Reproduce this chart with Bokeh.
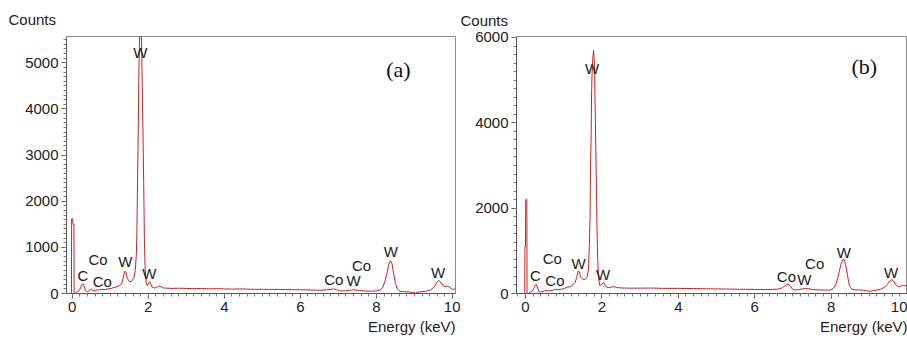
from bokeh.plotting import figure
from bokeh.models import SingleIntervalTicker, Title, Range1d
from bokeh.layouts import row
from bokeh.core.properties import value
from bokeh.embed import file_html
from bokeh.resources import INLINE

# ---------------- data ----------------
a_energy = [-0.05, -0.02, -0.015, 0.015, 0.02, 0.045, 0.05, 0.08, 0.12, 0.18, 0.22, 0.26, 0.28,
            0.31, 0.35, 0.40, 0.46, 0.50, 0.55, 0.62, 0.70, 0.78, 0.86, 0.94, 1.02, 1.10, 1.18,
            1.24, 1.30, 1.34, 1.38, 1.41, 1.45, 1.50, 1.56, 1.62, 1.66, 1.69, 1.70, 1.72, 1.74,
            1.75, 1.76, 1.78, 1.80, 1.82, 1.84, 1.86, 1.88, 1.90, 1.92, 1.95, 1.98, 2.01, 2.04,
            2.07, 2.10, 2.16, 2.22, 2.28, 2.33, 2.40, 2.50, 2.65, 2.80, 3.00, 3.20, 3.40, 3.60,
            3.80, 4.00, 4.20, 4.40, 4.60, 4.80, 5.00, 5.20, 5.40, 5.60, 5.80, 6.00, 6.20, 6.40,
            6.55, 6.70, 6.80, 6.87, 6.95, 7.05, 7.20, 7.35, 7.42, 7.55, 7.70, 7.85, 7.98, 8.08,
            8.16, 8.22, 8.28, 8.33, 8.37, 8.41, 8.45, 8.50, 8.55, 8.62, 8.72, 8.85, 8.95, 9.02,
            9.10, 9.20, 9.30, 9.40, 9.48, 9.55, 9.60, 9.65, 9.70, 9.76, 9.80, 9.86, 9.90, 9.95,
            10.00, 10.08]
a_counts = [0, 0, 1620, 1620, 1500, 1500, 0, 0, 40, 60, 120, 200, 210,
            170, 60, 40, 70, 95, 60, 70, 80, 90, 85, 100, 110, 130, 150,
            170, 220, 330, 480, 470, 330, 260, 260, 330, 500, 900, 1300, 2500, 3700,
            4600, 5100, 5900, 6000, 5700, 4600, 3600, 2400, 1100, 500, 200, 170, 230, 260,
            200, 140, 120, 130, 160, 150, 120, 115, 110, 115, 110, 105, 110, 100,
            105, 100, 95, 100, 95, 90, 92, 88, 90, 85, 82, 80, 78, 72,
            70, 80, 90, 100, 80, 55, 60, 75, 80, 65, 55, 50, 55, 70,
            120, 250, 450, 640, 710, 650, 450, 220, 100, 50, 40, 35, 20, 10,
            30, 40, 50, 70, 110, 180, 260, 280, 230, 160, 150, 160, 150, 120,
            90, 100]

b_energy = [-0.04, -0.02, -0.015, 0.0, 0.005, 0.035, 0.04, 0.08, 0.12, 0.18, 0.22, 0.26, 0.28,
            0.31, 0.35, 0.40, 0.46, 0.52, 0.60, 0.70, 0.78, 0.86, 0.94, 1.02, 1.10, 1.18,
            1.24, 1.30, 1.34, 1.38, 1.41, 1.45, 1.50, 1.56, 1.62, 1.65, 1.67, 1.69, 1.70, 1.72,
            1.73, 1.74, 1.76, 1.78, 1.80, 1.81, 1.83, 1.85, 1.87, 1.89, 1.91, 1.94, 1.98, 2.02,
            2.05, 2.08, 2.12, 2.18, 2.25, 2.32, 2.40, 2.50, 2.70, 3.00, 3.30, 3.60, 4.00, 4.40,
            4.80, 5.20, 5.60, 6.00, 6.40, 6.60, 6.72, 6.80, 6.86, 6.92, 6.98, 7.06, 7.15, 7.25,
            7.32, 7.42, 7.55, 7.70, 7.85, 7.97, 8.05, 8.12, 8.18, 8.24, 8.30, 8.34, 8.38, 8.43,
            8.48, 8.55, 8.65, 8.75, 8.85, 8.95, 9.02, 9.10, 9.20, 9.30, 9.40, 9.48, 9.54, 9.59,
            9.64, 9.70, 9.77, 9.82, 9.90, 9.95, 10.00]
b_counts = [0, 0, 1100, 1100, 2200, 2200, 0, 0, 30, 60, 130, 200, 220,
            150, 50, 30, 50, 70, 60, 70, 100, 90, 100, 120, 150, 160,
            200, 260, 380, 530, 510, 380, 330, 330, 400, 600, 1100, 1800, 2800, 3800,
            4700, 5100, 5500, 5700, 5500, 5100, 4000, 2900, 1600, 800, 400, 190, 200, 240,
            255, 200, 150, 140, 150, 160, 140, 130, 125, 125, 128, 120, 120, 115,
            110, 105, 100, 95, 95, 100, 130, 190, 225, 190, 110, 80, 90, 110,
            115, 110, 90, 85, 80, 80, 110, 200, 380, 620, 790, 800, 680, 420,
            180, 100, 85, 80, 77, 60, 50, 70, 80, 100, 150, 230, 300, 325,
            290, 200, 155, 170, 195, 180, 170]

a_peak_names = ["W", "C", "Co", "Co", "W", "W", "Co", "W", "Co", "W", "W"]
a_peak_x = [1.79, 0.28, 0.68, 0.79, 1.40, 2.03, 6.88, 7.40, 7.61, 8.38, 9.62]
a_peak_y = [5226, 387, 746, 258, 695, 437, 294, 280, 617, 903, 458]

b_peak_names = ["W", "C", "Co", "Co", "W", "W", "Co", "W", "Co", "W", "W"]
b_peak_x = [1.74, 0.26, 0.70, 0.77, 1.39, 2.03, 6.83, 7.30, 7.57, 8.33, 9.57]
b_peak_y = [5270, 411, 814, 302, 713, 450, 395, 326, 698, 969, 488]

panel_tags = ["(a)", "(b)"]

FONT = "Liberation Sans"
LINE = "#cc2222"
TXT = "#222222"
FS = "15px"


def make_panel(width, bl, br, bt, bb, xr, yr, yint, energy, counts,
               names, px, py, tag, tag_xy, title_offset, title_standoff):
    p = figure(width=width, height=340, output_backend="svg", toolbar_location=None,
               x_range=Range1d(*xr), y_range=Range1d(*yr),
               min_border_left=bl, min_border_right=br, min_border_top=bt,
               min_border_bottom=bb, title="Counts")
    p.title.align = "left"
    p.title.offset = title_offset
    p.title.standoff = title_standoff
    p.title.text_font = FONT
    p.title.text_font_size = FS
    p.title.text_font_style = "normal"
    p.title.text_color = TXT

    p.xgrid.visible = False
    p.ygrid.visible = False
    p.outline_line_color = "#8c8c8c"
    p.outline_line_width = 1

    p.xaxis.ticker = SingleIntervalTicker(interval=2, num_minor_ticks=10)
    p.yaxis.ticker = SingleIntervalTicker(interval=yint, num_minor_ticks=10)
    for ax in (p.xaxis, p.yaxis):
        ax.axis_line_color = "#555555"
        ax.major_tick_line_color = "#555555"
        ax.minor_tick_line_color = "#777777"
        ax.major_tick_out = 5
        ax.major_tick_in = 0
        ax.minor_tick_out = 3
        ax.minor_tick_in = 0
        ax.major_label_text_font = FONT
        ax.major_label_text_font_size = FS
        ax.major_label_text_color = TXT
        ax.major_label_standoff = 3

    p.add_layout(Title(text="Energy (keV)", align="right", standoff=2,
                       text_font=FONT, text_font_size=FS,
                       text_font_style="normal", text_color=TXT), "below")

    p.line(energy, counts, line_color=LINE, line_width=1)

    p.text(x=px, y=py, text=names, text_font=value(FONT), text_font_size=FS,
           text_align="center", text_baseline="middle", text_color=TXT)
    p.text(x=[tag_xy[0]], y=[tag_xy[1]], text=[tag], text_font=value("Liberation Serif"),
           text_font_size="22px", text_align="center", text_baseline="middle",
           text_color="#111111")
    return p


pa = make_panel(460, 66, 5, 34, 47, (-0.15, 10.08), (0, 5570), 1000,
                a_energy, a_counts, a_peak_names, a_peak_x, a_peak_y,
                panel_tags[0], (8.58, 4860), -58, 17)
pb = make_panel(447, 56, 0, 36, 45, (-0.236, 10.0), (0, 6023), 2000,
                b_energy, b_counts, b_peak_names, b_peak_x, b_peak_y,
                panel_tags[1], (8.87, 5320), -56, 16)

layout = row(pa, pb)
open("out.html", "w").write(file_html(layout, INLINE))
